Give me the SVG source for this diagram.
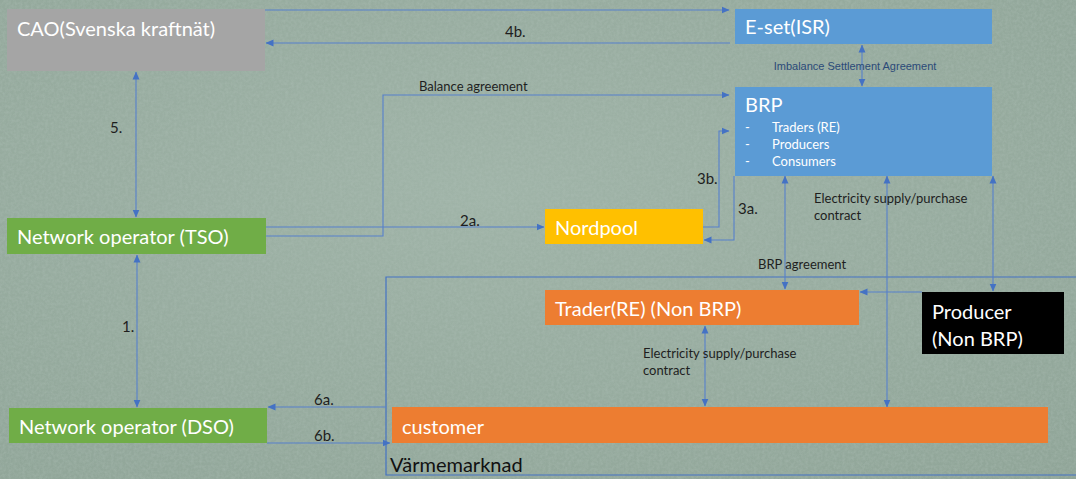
<svg xmlns="http://www.w3.org/2000/svg" width="1076" height="479" viewBox="0 0 1076 479">
<defs>
<radialGradient id="bg" cx="0.45" cy="0.4" r="0.8">
<stop offset="0" stop-color="#a0b4a8"/>
<stop offset="1" stop-color="#90a598"/>
</radialGradient>
<filter id="tex" x="0" y="0" width="100%" height="100%">
<feTurbulence type="fractalNoise" baseFrequency="0.35" numOctaves="3" seed="4" result="n"/>
<feColorMatrix in="n" type="matrix" values="0 0 0 0 0.45  0 0 0 0 0.55  0 0 0 0 0.5  0 0 0 1.1 -0.35" result="m"/>
<feComposite in="m" in2="SourceGraphic" operator="in"/>
</filter>
<marker id="ah" viewBox="0 0 8 8" refX="7.5" refY="4" markerWidth="8" markerHeight="8" markerUnits="userSpaceOnUse" orient="auto-start-reverse">
<path d="M0,0.5 L8,4 L0,7.5 z" fill="#4472c4"/>
</marker>
<style>
.c{fill:none;stroke:#5680cc;stroke-width:1.1}
.box{stroke:none}
.t{font-family:Lato,"Open Sans","Liberation Sans",sans-serif;fill:#fff}
.l{font-family:Lato,"Open Sans","Liberation Sans",sans-serif;fill:#1e1e1e}
.s{font-family:"Liberation Sans",Arial,sans-serif;fill:#2b4a78;font-size:11px}
</style>
</defs>
<rect width="1076" height="479" fill="url(#bg)"/>
<rect width="1076" height="479" fill="#000" filter="url(#tex)" opacity="0.5"/>

<g id="container">
<path d="M1080,277 H386 V475 H1080" fill="none" stroke="#4472c4" stroke-width="1.2"/>
<text x="390" y="472" font-family="Lato,'Open Sans','Liberation Sans',sans-serif" font-size="20" fill="#111">Värmemarknad</text>
</g>

<g id="connectors">
<path class="c" d="M265,10 H729" marker-end="url(#ah)"/>
<path class="c" d="M730,43 H266" marker-end="url(#ah)"/>
<path class="c" d="M862,45 V86" marker-start="url(#ah)" marker-end="url(#ah)"/>
<path class="c" d="M266,236 H383 V95 H729" marker-end="url(#ah)"/>
<path class="c" d="M266,227 H544" marker-end="url(#ah)"/>
<path class="c" d="M703,227 H719 V131 H729" marker-end="url(#ah)"/>
<path class="c" d="M734,176 V240 H704" marker-end="url(#ah)"/>
<path class="c" d="M136,72 V217" marker-start="url(#ah)" marker-end="url(#ah)"/>
<path class="c" d="M137,255 V407" marker-start="url(#ah)" marker-end="url(#ah)"/>
<path class="c" d="M785,176 V289" marker-start="url(#ah)" marker-end="url(#ah)"/>
<path class="c" d="M887,176 V407" marker-start="url(#ah)" marker-end="url(#ah)"/>
<path class="c" d="M993,176 V291" marker-start="url(#ah)" marker-end="url(#ah)"/>
<path class="c" d="M922,292 H860" marker-end="url(#ah)"/>
<path class="c" d="M705,326 V406" marker-start="url(#ah)" marker-end="url(#ah)"/>
<path class="c" d="M386,407 H268" marker-end="url(#ah)"/>
<path class="c" d="M267,443 H390" marker-end="url(#ah)"/>
<text class="l" x="505" y="37" font-size="15">4b.</text>
<text class="s" x="855" y="70" text-anchor="middle">Imbalance Settlement Agreement</text>
<text class="l" x="419" y="91" font-size="13">Balance agreement</text>
<text class="l" x="460" y="226" font-size="15">2a.</text>
<text class="l" x="697" y="184" font-size="15">3b.</text>
<text class="l" x="738" y="214" font-size="15">3a.</text>
<text class="l" x="110" y="133" font-size="15">5.</text>
<text class="l" x="122" y="332" font-size="15">1.</text>
<text class="l" x="758" y="269" font-size="13">BRP agreement</text>
<text class="l" x="814" y="203" font-size="13">Electricity supply/purchase</text>
<text class="l" x="814" y="220" font-size="13">contract</text>
<text class="l" x="643" y="358" font-size="13">Electricity supply/purchase</text>
<text class="l" x="643" y="375" font-size="13">contract</text>
<text class="l" x="314" y="405" font-size="15">6a.</text>
<text class="l" x="314" y="441" font-size="15">6b.</text>
</g>

<g id="cao">
<rect class="box" x="7" y="9" width="258" height="62" fill="#a5a5a5"/>
<text class="t" x="17" y="36" font-size="20">CAO(Svenska kraftnät)</text>
</g>
<g id="eset">
<rect class="box" x="735" y="9" width="257" height="35" fill="#5b9bd5"/>
<text class="t" x="745" y="34" font-size="20">E-set(ISR)</text>
</g>
<g id="brp">
<rect class="box" x="735" y="87" width="257" height="89" fill="#5b9bd5"/>
<text class="t" x="745" y="112" font-size="20">BRP</text>
<text class="t" x="745" y="132" font-size="13">-</text>
<text class="t" x="772" y="132" font-size="13">Traders (RE)</text>
<text class="t" x="745" y="149" font-size="13">-</text>
<text class="t" x="772" y="149" font-size="13">Producers</text>
<text class="t" x="745" y="166" font-size="13">-</text>
<text class="t" x="772" y="166" font-size="13">Consumers</text>
</g>
<g id="nordpool">
<rect class="box" x="545" y="209" width="158" height="35" fill="#ffc000"/>
<text class="t" x="555" y="235" font-size="20">Nordpool</text>
</g>
<g id="tso">
<rect class="box" x="7" y="218" width="259" height="36" fill="#70ad47"/>
<text class="t" x="17" y="244" font-size="20">Network operator (TSO)</text>
</g>
<g id="dso">
<rect class="box" x="9" y="408" width="258" height="35" fill="#70ad47"/>
<text class="t" x="19" y="434" font-size="20">Network operator (DSO)</text>
</g>
<g id="trader">
<rect class="box" x="545" y="290" width="314" height="35" fill="#ed7d31"/>
<text class="t" x="555" y="316" font-size="20">Trader(RE) (Non BRP)</text>
</g>
<g id="producer">
<rect class="box" x="922" y="292" width="142" height="62" fill="#000"/>
<text class="t" x="932" y="319" font-size="20">Producer</text>
<text class="t" x="932" y="346" font-size="20">(Non BRP)</text>
</g>
<g id="customer">
<rect class="box" x="392" y="407" width="656" height="36" fill="#ed7d31"/>
<text class="t" x="402" y="434" font-size="20">customer</text>
</g>
</svg>
